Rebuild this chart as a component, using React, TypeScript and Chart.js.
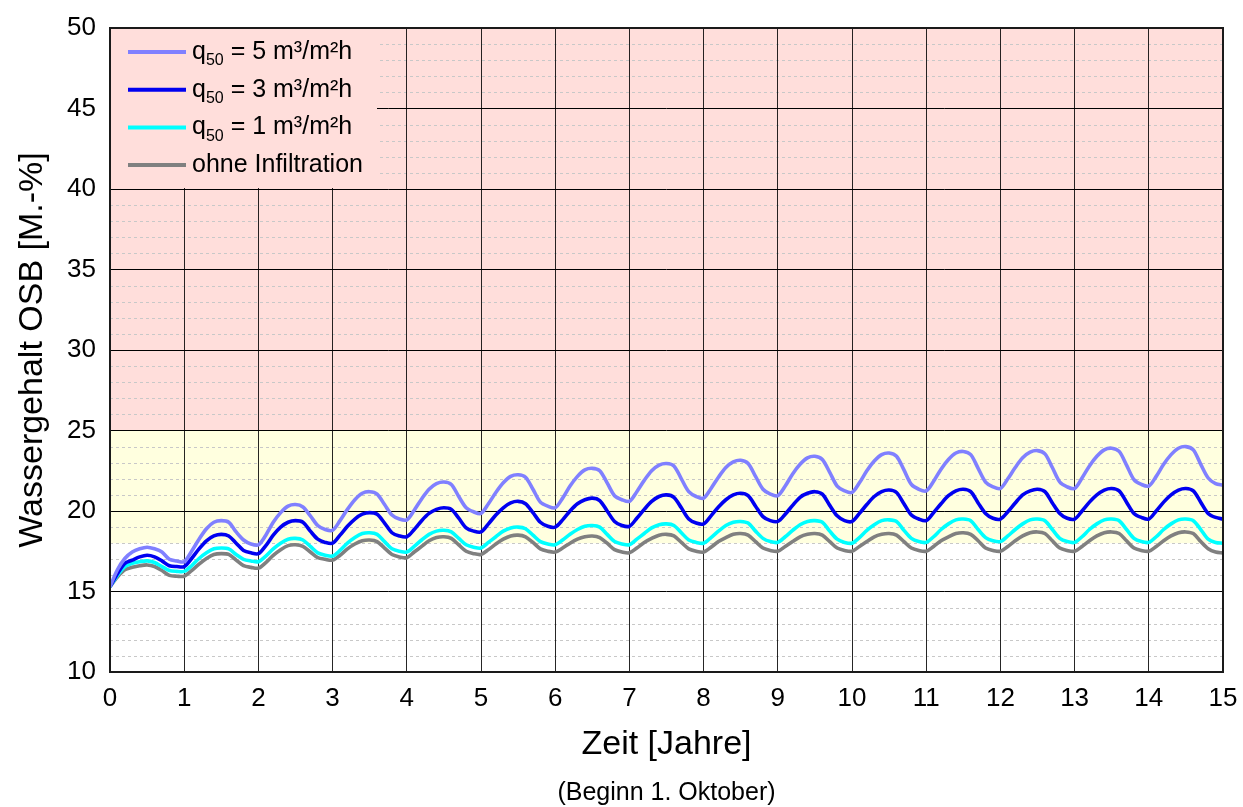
import React, { useEffect, useRef } from "react";
import { Chart, registerables } from "chart.js";

Chart.register(...registerables);

// ---- data (sampled every 0.1 year) ----
const TIME_STEP_YEARS = 0.1;

const Q50_5 = [
  15.3, 16.35, 17.05, 17.45, 17.65, 17.75, 17.65, 17.45, 17.0, 16.9,
  16.85, 17.5, 18.25, 18.9, 19.3, 19.4, 19.3, 18.7, 18.2, 17.95,
  17.9, 18.5, 19.3, 19.9, 20.3, 20.4, 20.25, 19.7, 19.1, 18.85,
  18.8, 19.4, 20.1, 20.7, 21.1, 21.2, 21.05, 20.4, 19.75, 19.5,
  19.45, 20.05, 20.75, 21.35, 21.7, 21.8, 21.65, 20.9, 20.2, 19.95,
  19.85, 20.45, 21.15, 21.75, 22.15, 22.25, 22.1, 21.35, 20.55, 20.3,
  20.2, 20.8, 21.55, 22.15, 22.55, 22.65, 22.5, 21.75, 20.95, 20.7,
  20.6, 21.2, 21.9, 22.5, 22.85, 22.95, 22.8, 22.0, 21.2, 20.9,
  20.8, 21.4, 22.1, 22.7, 23.05, 23.15, 22.95, 22.15, 21.35, 21.05,
  20.95, 21.55, 22.3, 22.9, 23.3, 23.4, 23.2, 22.4, 21.55, 21.25,
  21.15, 21.75, 22.5, 23.1, 23.5, 23.6, 23.4, 22.55, 21.65, 21.35,
  21.25, 21.85, 22.6, 23.2, 23.6, 23.7, 23.5, 22.65, 21.8, 21.5,
  21.4, 22.0, 22.7, 23.3, 23.65, 23.75, 23.55, 22.7, 21.8, 21.5,
  21.4, 22.05, 22.8, 23.4, 23.8, 23.9, 23.7, 22.85, 21.95, 21.65,
  21.55, 22.15, 22.9, 23.5, 23.9, 24.0, 23.8, 22.9, 22.05, 21.7,
  21.6,
];

const Q50_3 = [
  15.3, 16.1, 16.75, 16.95, 17.15, 17.25, 17.15, 16.9, 16.6, 16.55,
  16.55, 17.05, 17.65, 18.15, 18.45, 18.55, 18.45, 18.0, 17.55, 17.4,
  17.35, 17.85, 18.5, 19.0, 19.3, 19.4, 19.3, 18.75, 18.25, 18.05,
  18.0, 18.5, 19.05, 19.5, 19.8, 19.9, 19.8, 19.25, 18.65, 18.45,
  18.4, 18.85, 19.4, 19.85, 20.1, 20.2, 20.1, 19.55, 18.95, 18.75,
  18.7, 19.2, 19.75, 20.2, 20.5, 20.6, 20.45, 19.9, 19.3, 19.05,
  19.0, 19.45, 20.0, 20.45, 20.7, 20.8, 20.65, 20.0, 19.35, 19.1,
  19.05, 19.55, 20.1, 20.6, 20.9, 21.0, 20.85, 20.2, 19.5, 19.25,
  19.2, 19.7, 20.25, 20.7, 21.0, 21.1, 20.95, 20.3, 19.65, 19.4,
  19.35, 19.8, 20.35, 20.85, 21.1, 21.2, 21.05, 20.35, 19.7, 19.4,
  19.35, 19.85, 20.4, 20.9, 21.2, 21.3, 21.15, 20.45, 19.75, 19.5,
  19.4, 19.9, 20.45, 20.95, 21.25, 21.35, 21.2, 20.5, 19.85, 19.55,
  19.5, 19.95, 20.5, 21.0, 21.25, 21.35, 21.2, 20.5, 19.85, 19.55,
  19.5, 20.0, 20.55, 21.0, 21.3, 21.4, 21.25, 20.55, 19.85, 19.6,
  19.5, 20.0, 20.55, 21.0, 21.3, 21.4, 21.25, 20.55, 19.85, 19.6,
  19.5,
];

const Q50_1 = [
  15.3, 16.0, 16.55, 16.75, 16.85, 16.9, 16.8, 16.55, 16.3, 16.25,
  16.25, 16.6, 17.05, 17.4, 17.65, 17.7, 17.65, 17.3, 17.0, 16.9,
  16.85, 17.2, 17.65, 18.0, 18.25, 18.3, 18.2, 17.8, 17.4, 17.25,
  17.2, 17.55, 18.0, 18.35, 18.6, 18.65, 18.55, 18.1, 17.65, 17.5,
  17.45, 17.8, 18.2, 18.55, 18.75, 18.8, 18.7, 18.3, 17.9, 17.75,
  17.7, 18.05, 18.4, 18.75, 18.95, 19.0, 18.9, 18.5, 18.1, 17.95,
  17.9, 18.2, 18.55, 18.85, 19.05, 19.1, 19.0, 18.55, 18.1, 17.95,
  17.9, 18.25, 18.6, 18.95, 19.15, 19.2, 19.1, 18.65, 18.2, 18.05,
  18.0, 18.35, 18.75, 19.1, 19.3, 19.35, 19.25, 18.75, 18.3, 18.1,
  18.05, 18.4, 18.8, 19.15, 19.35, 19.4, 19.3, 18.75, 18.25, 18.05,
  18.0, 18.35, 18.8, 19.15, 19.4, 19.45, 19.35, 18.8, 18.3, 18.1,
  18.05, 18.4, 18.85, 19.2, 19.45, 19.5, 19.4, 18.85, 18.35, 18.15,
  18.1, 18.45, 18.85, 19.2, 19.45, 19.5, 19.4, 18.85, 18.3, 18.1,
  18.05, 18.4, 18.85, 19.2, 19.45, 19.5, 19.4, 18.85, 18.3, 18.1,
  18.05, 18.4, 18.85, 19.2, 19.45, 19.5, 19.4, 18.85, 18.25, 18.05,
  18.0,
];

const OHNE_INFILTRATION = [
  15.3, 15.9, 16.35, 16.5, 16.6, 16.65, 16.55, 16.3, 16.0, 15.95,
  15.95, 16.3, 16.7, 17.05, 17.3, 17.35, 17.3, 16.95, 16.6, 16.5,
  16.45, 16.8, 17.25, 17.6, 17.85, 17.9, 17.8, 17.45, 17.1, 17.0,
  16.95, 17.25, 17.65, 17.95, 18.15, 18.2, 18.1, 17.7, 17.3, 17.15,
  17.1, 17.45, 17.8, 18.15, 18.35, 18.4, 18.3, 17.9, 17.5, 17.35,
  17.3, 17.6, 17.95, 18.25, 18.45, 18.5, 18.4, 18.05, 17.65, 17.5,
  17.45, 17.7, 18.0, 18.25, 18.4, 18.45, 18.35, 18.0, 17.6, 17.45,
  17.4, 17.7, 18.05, 18.3, 18.5, 18.55, 18.45, 18.05, 17.65, 17.5,
  17.45, 17.75, 18.1, 18.35, 18.55, 18.6, 18.5, 18.1, 17.7, 17.55,
  17.5, 17.8, 18.1, 18.4, 18.55, 18.6, 18.5, 18.1, 17.7, 17.55,
  17.5, 17.8, 18.1, 18.4, 18.55, 18.6, 18.5, 18.1, 17.7, 17.55,
  17.5, 17.8, 18.15, 18.4, 18.6, 18.65, 18.55, 18.15, 17.7, 17.55,
  17.5, 17.8, 18.15, 18.45, 18.65, 18.7, 18.6, 18.15, 17.7, 17.55,
  17.5, 17.8, 18.15, 18.45, 18.65, 18.7, 18.6, 18.15, 17.7, 17.55,
  17.5, 17.8, 18.15, 18.45, 18.65, 18.7, 18.6, 18.1, 17.65, 17.45,
  17.4,
];

const SERIES_LABELS = [
  "q₅₀ = 5 m³/m²h",
  "q₅₀ = 3 m³/m²h",
  "q₅₀ = 1 m³/m²h",
  "ohne Infiltration",
];
const SERIES_VALUES = [Q50_5, Q50_3, Q50_1, OHNE_INFILTRATION];
const SERIES_COLORS = ["#8080FF", "#0000F0", "#00FFFF", "#808080"];

const X_MIN = 0;
const X_MAX = 15;
const Y_MIN = 10;
const Y_MAX = 50;
const Y_STEP = 5;

const X_TITLE = "Zeit [Jahre]";
const X_SUBTITLE = "(Beginn 1. Oktober)";
const Y_TITLE = "Wassergehalt OSB [M.-%]";

// background zones (value ranges)
const ZONES = [
  { from: 25, to: 50, color: "#FFDEDB" },
  { from: 18, to: 25, color: "#FFFFDF" },
];

const FONT = '"Liberation Sans", Arial, Helvetica, sans-serif';

const decorPlugin = {
  id: "decor",
  beforeDraw(chart: any) {
    const { ctx, chartArea: a, scales } = chart;
    const y = scales.y;
    ctx.save();
    ctx.fillStyle = "#ffffff";
    ctx.fillRect(a.left, a.top, a.right - a.left, a.bottom - a.top);
    ZONES.forEach((z) => {
      const y1 = y.getPixelForValue(z.to);
      const y2 = y.getPixelForValue(z.from);
      ctx.fillStyle = z.color;
      ctx.fillRect(a.left, y1, a.right - a.left, y2 - y1);
    });
    // minor dashed grid lines
    ctx.setLineDash([3, 3]);
    ctx.strokeStyle = "#c8c8c8";
    ctx.lineWidth = 1;
    for (let v = Y_MIN + 1; v < Y_MAX; v++) {
      if (v % Y_STEP === 0) continue;
      const py = Math.round(y.getPixelForValue(v)) + 0.5;
      ctx.beginPath();
      ctx.moveTo(a.left, py);
      ctx.lineTo(a.right, py);
      ctx.stroke();
    }
    ctx.restore();
  },
  afterDatasetsDraw(chart: any) {
    const { ctx, chartArea: a, scales } = chart;
    const y = scales.y;
    ctx.save();
    // legend box
    const boxRight = a.left + 267;
    const boxBottom = Math.round(y.getPixelForValue(40)) - 1;
    ctx.fillStyle = ZONES[0].color;
    ctx.fillRect(a.left, a.top, boxRight - a.left, boxBottom - a.top);
    chart.data.datasets.forEach((ds: any, i: number) => {
      const cy = a.top + 24 + i * 37.7;
      ctx.strokeStyle = ds.borderColor;
      ctx.lineWidth = 4;
      ctx.setLineDash([]);
      ctx.beginPath();
      ctx.moveTo(a.left + 18, cy);
      ctx.lineTo(a.left + 76, cy);
      ctx.stroke();
      ctx.fillStyle = "#000";
      ctx.textBaseline = "middle";
      ctx.textAlign = "left";
      let x = a.left + 82;
      const label: string = ds.label;
      if (label.startsWith("q₅₀")) {
        ctx.font = `25px ${FONT}`;
        ctx.fillText("q", x, cy);
        x += ctx.measureText("q").width;
        ctx.font = `16px ${FONT}`;
        ctx.fillText("50", x, cy + 9);
        x += ctx.measureText("50").width;
        ctx.font = `25px ${FONT}`;
        ctx.fillText(label.slice(3), x, cy);
      } else {
        ctx.font = `25px ${FONT}`;
        ctx.fillText(label, x, cy);
      }
    });
    // frame
    ctx.strokeStyle = "#1a1a1a";
    ctx.lineWidth = 2;
    ctx.strokeRect(a.left, a.top, a.right - a.left, a.bottom - a.top);
    ctx.restore();
  },
  afterDraw(chart: any) {
    const { ctx, chartArea: a } = chart;
    ctx.save();
    ctx.fillStyle = "#000";
    ctx.font = `25px ${FONT}`;
    ctx.textAlign = "center";
    ctx.textBaseline = "middle";
    ctx.fillText(X_SUBTITLE, (a.left + a.right) / 2, a.bottom + 121);
    ctx.restore();
  },
};

export default function App() {
  const canvasRef = useRef<HTMLCanvasElement | null>(null);

  useEffect(() => {
    if (!canvasRef.current) return;
    const datasets = SERIES_VALUES.map((vals, i) => ({
      label: SERIES_LABELS[i],
      data: vals.map((v, k) => ({ x: Math.round(k * TIME_STEP_YEARS * 10) / 10, y: v })),
      borderColor: SERIES_COLORS[i],
      backgroundColor: SERIES_COLORS[i],
      borderWidth: 3.6,
      pointRadius: 0,
      tension: 0.3,
      fill: false,
    }));

    const chart = new Chart(canvasRef.current, {
      type: "line",
      data: { datasets },
      options: {
        animation: false,
        responsive: true,
        maintainAspectRatio: false,
        layout: { padding: { left: 0, right: 20, top: 28, bottom: 0 } },
        plugins: {
          legend: { display: false },
          tooltip: { enabled: false },
        },
        scales: {
          x: {
            type: "linear",
            min: X_MIN,
            max: X_MAX,
            ticks: {
              stepSize: 1,
              color: "#000",
              font: { family: FONT, size: 26 },
              padding: 11,
              maxRotation: 0,
              autoSkip: false,
            },
            grid: { color: "rgba(0,0,0,0.85)", lineWidth: 1, drawTicks: false },
            border: { display: false },
            title: {
              display: true,
              text: X_TITLE,
              color: "#000",
              font: { family: FONT, size: 34, lineHeight: 1 },
              padding: { top: 0, bottom: 45 },
            },
            afterFit: (s: any) => {
              s.height = 135;
              s.paddingLeft = 0;
              s.paddingRight = 0;
            },
          },
          y: {
            type: "linear",
            min: Y_MIN,
            max: Y_MAX,
            ticks: {
              stepSize: Y_STEP,
              color: "#000",
              font: { family: FONT, size: 26 },
              padding: 14,
            },
            grid: { color: "#000", lineWidth: 1, drawTicks: false },
            border: { display: false },
            title: {
              display: true,
              text: Y_TITLE,
              color: "#000",
              font: { family: FONT, size: 34, lineHeight: 1 },
              padding: { top: 16, bottom: 0 },
            },
            afterFit: (s: any) => {
              s.width = 110;
              s.paddingTop = 0;
              s.paddingBottom = 0;
            },
          },
        },
      },
      plugins: [decorPlugin],
    });
    return () => chart.destroy();
  }, []);

  return (
    <div style={{ position: "absolute", left: 0, top: 0, width: 1243, height: 807 }}>
      <canvas ref={canvasRef} />
    </div>
  );
}
